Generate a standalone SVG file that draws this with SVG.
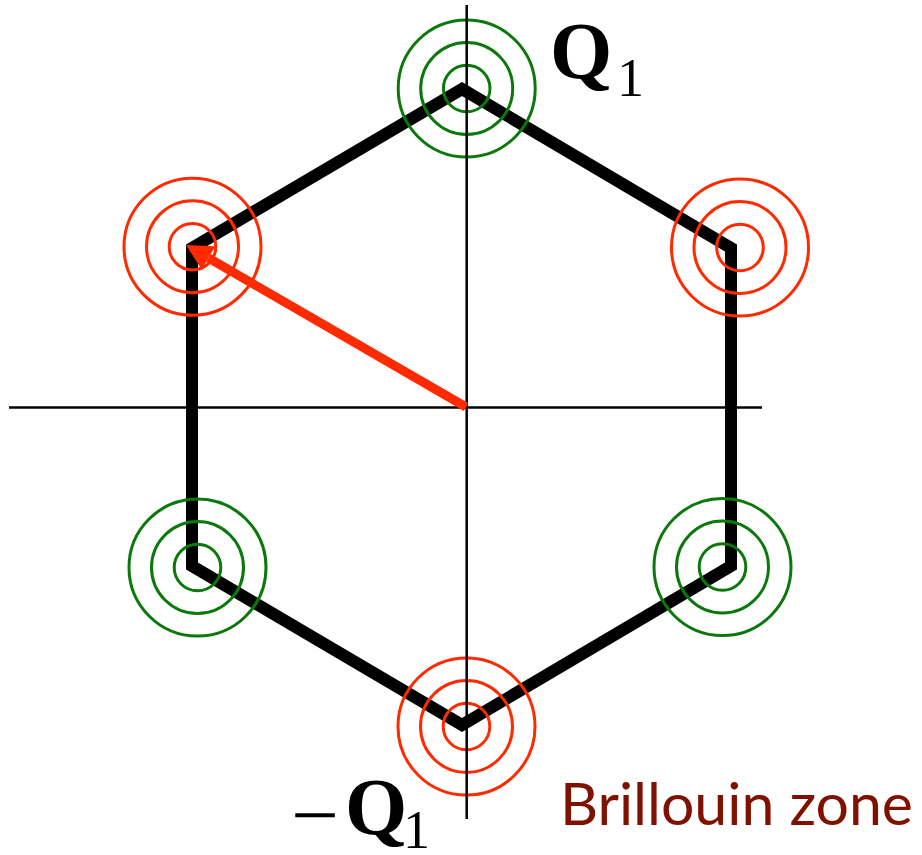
<svg xmlns="http://www.w3.org/2000/svg" width="922" height="855" viewBox="0 0 922 855">
<style>
.hex{fill:none;stroke:#000;stroke-width:12;stroke-linejoin:miter}
.ring{fill:none;stroke-width:3}
.red{stroke:#ff2a00}
.green{stroke:#0b780b}
.axis{stroke:#000;stroke-width:2.5}
.arrow{stroke:#ff2a00;stroke-width:9}
.math{font-family:"Liberation Serif","Times New Roman",serif;fill:#000}
.bold{font-weight:bold}
.label{font-family:Lato,"Open Sans",sans-serif;fill:#7f1100}
</style>
<defs>
<marker id="head" markerUnits="userSpaceOnUse" viewBox="-2 -14 28 28" refX="0" refY="0" markerWidth="28" markerHeight="28" orient="auto">
<path d="M0,-13.5 L26,0 L0,13.5 z" fill="#ff2a00"/>
</marker>
</defs>
<rect width="922" height="855" fill="#fff"/>
<g id="zone">
<polygon class="hex" points="462,89 731,248 731,566 462,725 192,566 192,248"/>
</g>
<g id="point-top" class="green"><circle class="ring" cx="466.7" cy="88.5" r="68.5"/><circle class="ring" cx="466.7" cy="88.5" r="46"/><circle class="ring" cx="466.7" cy="88.5" r="23.3"/></g>
<g id="point-top-left" class="red"><circle class="ring" cx="192.5" cy="246.7" r="68.5"/><circle class="ring" cx="192.5" cy="246.7" r="46"/><circle class="ring" cx="192.5" cy="246.7" r="23.3"/></g>
<g id="point-top-right" class="red"><circle class="ring" cx="740" cy="247.5" r="68.5"/><circle class="ring" cx="740" cy="247.5" r="46"/><circle class="ring" cx="740" cy="247.5" r="23.3"/></g>
<g id="point-bottom-left" class="green"><circle class="ring" cx="197.5" cy="567.5" r="68.5"/><circle class="ring" cx="197.5" cy="567.5" r="46"/><circle class="ring" cx="197.5" cy="567.5" r="23.3"/></g>
<g id="point-bottom-right" class="green"><circle class="ring" cx="722.5" cy="567" r="68.5"/><circle class="ring" cx="722.5" cy="567" r="46"/><circle class="ring" cx="722.5" cy="567" r="23.3"/></g>
<g id="point-bottom" class="red"><circle class="ring" cx="466.5" cy="726.5" r="68.5"/><circle class="ring" cx="466.5" cy="726.5" r="46"/><circle class="ring" cx="466.5" cy="726.5" r="23.3"/></g>
<g id="connectors">
<line class="axis" x1="9" y1="407.5" x2="762" y2="407.5"/>
<line class="axis" x1="466.7" y1="5" x2="466.7" y2="819"/>
<line class="arrow" x1="466" y1="407" x2="208.5" y2="258" marker-end="url(#head)"/>
</g>
<g id="label-q1">
<text class="math bold" x="550" y="78" font-size="80">Q</text>
<text class="math" x="617" y="96" font-size="54">1</text>
</g>
<g id="label-minus-q1">
<text class="math" x="291" y="842" font-size="80" textLength="48" lengthAdjust="spacingAndGlyphs">−</text>
<text class="math bold" x="345" y="834" font-size="80">Q</text>
<text class="math" x="403" y="848" font-size="54">1</text>
</g>
<g id="label-bz">
<text class="label" x="560" y="825" font-size="59" textLength="353" lengthAdjust="spacingAndGlyphs">Brillouin zone</text>
</g>
</svg>
